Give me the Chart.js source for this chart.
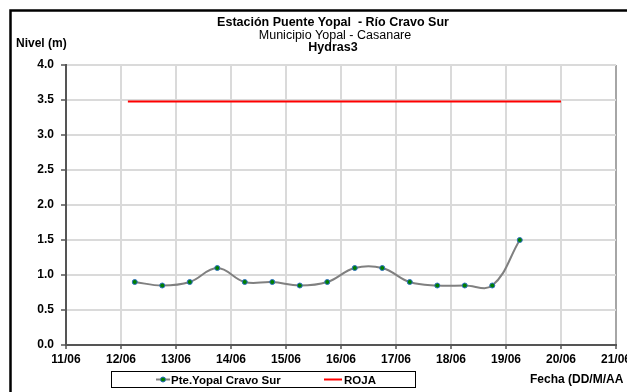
<!DOCTYPE html>
<html>
<head>
<meta charset="utf-8">
<script src="https://cdn.jsdelivr.net/npm/chart.js@4.4.0/dist/chart.umd.min.js"></script>
<style>
  body { margin: 0; background: #fff; }
  canvas { display: block; }
</style>
</head>
<body>
<canvas id="chart" width="627" height="392"></canvas>
<script>
// --- datos ---
const BASE_DAY = 11; // 11/06 = 0
const times = ['12/06 06:00', '12/06 18:00', '13/06 06:00', '13/06 18:00', '14/06 06:00',
               '14/06 18:00', '15/06 06:00', '15/06 18:00', '16/06 06:00', '16/06 18:00',
               '17/06 06:00', '17/06 18:00', '18/06 06:00', '18/06 18:00', '19/06 06:00'];
const nivel = [0.90, 0.85, 0.90, 1.10, 0.90, 0.90, 0.85, 0.90, 1.10, 1.10, 0.90, 0.85, 0.85, 0.85, 1.50];
const rojaTimes = ['12/06 03:00', '20/06 00:00'];
const rojaValues = [3.48, 3.48];
const xTickLabels = ['11/06', '12/06', '13/06', '14/06', '15/06', '16/06', '17/06', '18/06', '19/06', '20/06', '21/06'];

const FONT = '"Liberation Sans", Arial, sans-serif';

// 'DD/MM hh:mm' -> dias desde 11/06
function toDay(s) {
    const [d, h] = s.split(' ');
    const [hh, mm] = h.split(':').map(Number);
    return parseInt(d.split('/')[0], 10) - BASE_DAY + (hh + mm / 60) / 24;
}

const serie = times.map((t, i) => ({ x: toDay(t), y: nivel[i] }));
const roja = rojaTimes.map((t, i) => ({ x: toDay(t), y: rojaValues[i] }));

// textos, marco y leyenda
const decoracion = {
    id: 'decoracion',
    afterDraw(chart) {
        const ctx = chart.ctx;
        ctx.save();
        // marco exterior
        ctx.strokeStyle = '#000';
        ctx.lineWidth = 2.5;
        ctx.strokeRect(10.5, 10.5, 640, 400);

        ctx.fillStyle = '#000';
        ctx.textBaseline = 'alphabetic';
        ctx.textAlign = 'center';
        ctx.font = 'bold 12.5px ' + FONT;
        ctx.fillText('Estación Puente Yopal  - Río Cravo Sur', 333, 26);
        ctx.font = '12.5px ' + FONT;
        ctx.fillText('Municipio Yopal - Casanare', 335, 38.5);
        ctx.font = 'bold 12.5px ' + FONT;
        ctx.fillText('Hydras3', 333, 51);

        ctx.textAlign = 'left';
        ctx.font = 'bold 12px ' + FONT;
        ctx.fillText('Nivel (m)', 16, 47);
        ctx.fillText('Fecha (DD/M/AA', 530, 383);

        // leyenda
        ctx.strokeStyle = '#000';
        ctx.lineWidth = 1;
        ctx.strokeRect(111.5, 371.5, 304, 16);

        ctx.strokeStyle = '#808080';
        ctx.lineWidth = 2;
        ctx.beginPath();
        ctx.moveTo(156, 379.5);
        ctx.lineTo(170, 379.5);
        ctx.stroke();
        ctx.beginPath();
        ctx.arc(163, 379.5, 2.5, 0, Math.PI * 2);
        ctx.fillStyle = '#008000';
        ctx.fill();
        ctx.strokeStyle = '#2f6fc0';
        ctx.lineWidth = 1;
        ctx.stroke();

        ctx.strokeStyle = '#ff0000';
        ctx.lineWidth = 2;
        ctx.beginPath();
        ctx.moveTo(324, 379.5);
        ctx.lineTo(342, 379.5);
        ctx.stroke();

        ctx.fillStyle = '#000';
        ctx.font = 'bold 11.5px ' + FONT;
        ctx.fillText('Pte.Yopal Cravo Sur', 171, 383.5);
        ctx.fillText('ROJA', 344, 383.5);
        ctx.restore();
    }
};

new Chart(document.getElementById('chart'), {
    type: 'line',
    data: {
        datasets: [
            {
                label: 'Pte.Yopal Cravo Sur',
                data: serie,
                borderColor: '#808080',
                borderWidth: 2,
                tension: 0.4,
                pointRadius: 2.5,
                pointBackgroundColor: '#008000',
                pointBorderColor: '#2f6fc0',
                pointBorderWidth: 1
            },
            {
                label: 'ROJA',
                data: roja,
                borderColor: '#ff0000',
                borderWidth: 2,
                pointRadius: 0,
                tension: 0
            }
        ]
    },
    options: {
        responsive: false,
        animation: false,
        layout: { padding: { left: 0, right: 11, top: 65, bottom: 0 } },
        plugins: { legend: { display: false }, title: { display: false }, tooltip: { enabled: false } },
        scales: {
            x: {
                type: 'linear',
                min: 0,
                max: 10,
                afterFit(scale) { scale.height = 47; scale.paddingLeft = 0; scale.paddingRight = 0; },
                afterBuildTicks(scale) { scale.ticks = xTickLabels.map((_, i) => ({ value: i })); },
                ticks: {
                    autoSkip: false,
                    maxRotation: 0,
                    padding: 3,
                    color: '#000',
                    font: { family: FONT, size: 12, weight: 'bold' },
                    callback: (v, i) => xTickLabels[i]
                },
                grid: {
                    color: c => (c.tick && c.tick.value === 10) ? '#a6a6a6' : '#dadada',
                    lineWidth: 2,
                    tickLength: 4,
                    tickColor: '#555',
                    tickWidth: 1.5
                },
                border: { color: '#555', width: 2 }
            },
            y: {
                min: 0,
                max: 4,
                afterFit(scale) { scale.width = 66; scale.paddingTop = 0; scale.paddingBottom = 0; },
                ticks: {
                    stepSize: 0.5,
                    padding: 7,
                    color: '#000',
                    font: { family: FONT, size: 12, weight: 'bold' },
                    callback: v => v.toFixed(1)
                },
                grid: {
                    color: '#dadada',
                    lineWidth: 2,
                    tickLength: 5,
                    tickColor: '#555',
                    tickWidth: 1.5
                },
                border: { color: '#555', width: 2 }
            }
        }
    },
    plugins: [decoracion]
});
</script>
</body>
</html>
